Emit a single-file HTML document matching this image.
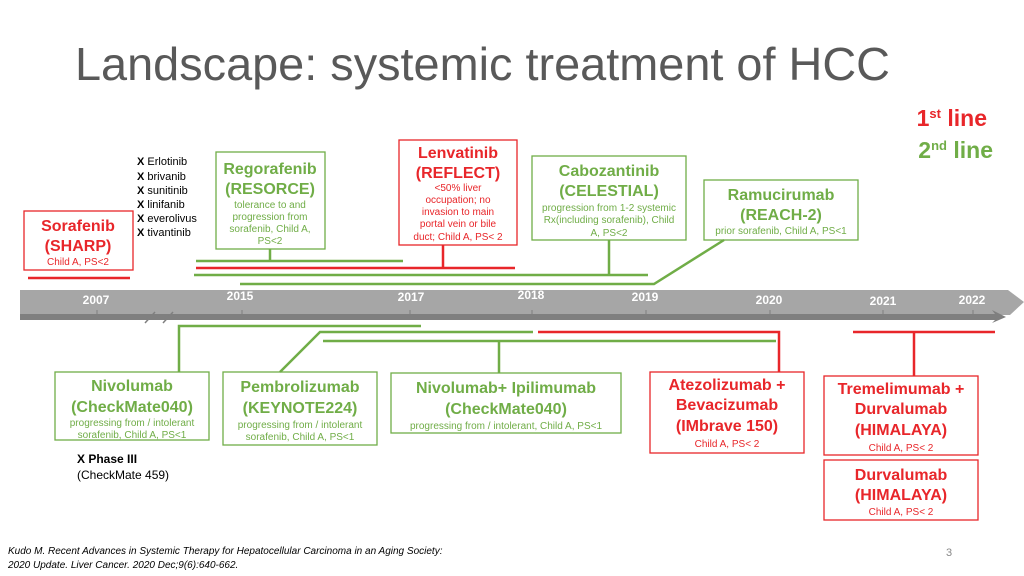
<!DOCTYPE html>
<html><head><meta charset="utf-8"><style>
html,body{margin:0;padding:0;background:#fff;}
svg{display:block;font-family:"Liberation Sans",Arial,sans-serif;}
.g{fill:#70ad47}.r{fill:#e8262a}
.bg{fill:none;stroke:#70ad47;stroke-width:1.3}
.br{fill:none;stroke:#e8262a;stroke-width:1.3}
.lg{stroke:#70ad47;stroke-width:2.5;fill:none}
.lr{stroke:#e8262a;stroke-width:2.5;fill:none}
.h{font-weight:bold;font-size:16px;text-anchor:middle}
.s{font-size:10px;text-anchor:middle}
.y{fill:#fff;font-weight:bold;font-size:12px;text-anchor:middle}
.x{font-size:11px;fill:#000}
</style></head><body>
<svg width="1024" height="576" viewBox="0 0 1024 576">
<text x="75" y="80" font-size="46" fill="#595959" textLength="815" lengthAdjust="spacingAndGlyphs">Landscape: systemic treatment of HCC</text>
<text x="987" y="126" font-size="23" font-weight="bold" class="r" text-anchor="end">1<tspan font-size="13" dy="-8">st</tspan><tspan dy="8"> line</tspan></text>
<text x="993" y="158" font-size="23" font-weight="bold" class="g" text-anchor="end">2<tspan font-size="13" dy="-8">nd</tspan><tspan dy="8"> line</tspan></text>

<polygon points="20,290 1008,290 1024,302 1010,315 20,315" fill="#a6a6a6"/>
<polygon points="20,314 995,314 992,310 1006,317 992,323 995,320 20,320" fill="#7f7f7f"/>
<g stroke="#7f7f7f" stroke-width="1">
<line x1="97" y1="310" x2="97" y2="316"/><line x1="242" y1="310" x2="242" y2="316"/><line x1="410" y1="310" x2="410" y2="316"/><line x1="532" y1="310" x2="532" y2="316"/><line x1="646" y1="310" x2="646" y2="316"/><line x1="770" y1="310" x2="770" y2="316"/><line x1="883" y1="310" x2="883" y2="316"/><line x1="973" y1="310" x2="973" y2="316"/>
</g>
<g stroke="#7f7f7f" stroke-width="1.5"><line x1="145" y1="323" x2="155" y2="312"/><line x1="163" y1="323" x2="173" y2="312"/></g>
<text class="y" x="96" y="304">2007</text><text class="y" x="240" y="300">2015</text><text class="y" x="411" y="301">2017</text><text class="y" x="531" y="299">2018</text><text class="y" x="645" y="301">2019</text><text class="y" x="769" y="304">2020</text><text class="y" x="883" y="305">2021</text><text class="y" x="972" y="304">2022</text>

<line class="lr" x1="28" y1="278" x2="130" y2="278"/>
<line class="lg" x1="196" y1="261" x2="403" y2="261"/><line class="lg" x1="270" y1="249" x2="270" y2="261"/>
<line class="lr" x1="196" y1="268" x2="515" y2="268"/><line class="lr" x1="443" y1="245" x2="443" y2="268"/>
<line class="lg" x1="194" y1="275" x2="648" y2="275"/><line class="lg" x1="609" y1="240" x2="609" y2="275"/>
<polyline class="lg" points="240,284 654,284 724,240"/>

<polyline class="lg" points="421,326 179,326 179,372"/>
<polyline class="lg" points="533,332 320,332 280,372"/>
<polyline class="lr" points="538,332 779,332 779,372"/>
<line class="lg" x1="323" y1="341" x2="776" y2="341"/><line class="lg" x1="499" y1="341" x2="499" y2="373"/>
<line class="lr" x1="853" y1="332" x2="995" y2="332"/><line class="lr" x1="914" y1="332" x2="914" y2="376"/>

<rect class="br" x="24" y="211" width="109" height="59"/>
<text class="h r" x="78" y="231">Sorafenib</text><text class="h r" x="78" y="251">(SHARP)</text><text class="s r" x="78" y="265">Child A, PS&lt;2</text>

<g class="x"><text x="137" y="165"><tspan font-weight="bold">X</tspan> Erlotinib</text><text x="137" y="180"><tspan font-weight="bold">X</tspan> brivanib</text><text x="137" y="194"><tspan font-weight="bold">X</tspan> sunitinib</text><text x="137" y="208"><tspan font-weight="bold">X</tspan> linifanib</text><text x="137" y="222"><tspan font-weight="bold">X</tspan> everolivus</text><text x="137" y="236"><tspan font-weight="bold">X</tspan> tivantinib</text></g>

<rect class="bg" x="216" y="152" width="109" height="97"/>
<text class="h g" x="270" y="174">Regorafenib</text><text class="h g" x="270" y="194">(RESORCE)</text>
<text class="s g" x="270" y="208">tolerance to and</text><text class="s g" x="270" y="220">progression from</text><text class="s g" x="270" y="232">sorafenib, Child A,</text><text class="s g" x="270" y="244">PS&lt;2</text>

<rect class="br" x="399" y="140" width="118" height="105"/>
<text class="h r" x="458" y="158">Lenvatinib</text><text class="h r" x="458" y="178">(REFLECT)</text>
<text class="s r" x="458" y="191">&lt;50% liver</text><text class="s r" x="458" y="203">occupation; no</text><text class="s r" x="458" y="215">invasion to main</text><text class="s r" x="458" y="227">portal vein or bile</text><text class="s r" x="458" y="240">duct; Child A, PS&lt; 2</text>

<rect class="bg" x="532" y="156" width="154" height="84"/>
<text class="h g" x="609" y="176">Cabozantinib</text><text class="h g" x="609" y="196">(CELESTIAL)</text>
<text class="s g" x="609" y="211">progression from 1-2 systemic</text><text class="s g" x="609" y="223">Rx(including sorafenib), Child</text><text class="s g" x="609" y="236">A, PS&lt;2</text>

<rect class="bg" x="704" y="180" width="154" height="60"/>
<text class="h g" x="781" y="200">Ramucirumab</text><text class="h g" x="781" y="220">(REACH-2)</text><text class="s g" x="781" y="234">prior sorafenib, Child A, PS&lt;1</text>

<rect class="bg" x="55" y="372" width="154" height="68"/>
<text class="h g" x="132" y="391">Nivolumab</text><text class="h g" x="132" y="412">(CheckMate040)</text>
<text class="s g" x="132" y="426">progressing from /  intolerant</text><text class="s g" x="132" y="438">sorafenib, Child A, PS&lt;1</text>

<rect class="bg" x="223" y="372" width="154" height="73"/>
<text class="h g" x="300" y="392">Pembrolizumab</text><text class="h g" x="300" y="413">(KEYNOTE224)</text>
<text class="s g" x="300" y="428">progressing from /  intolerant</text><text class="s g" x="300" y="440">sorafenib, Child A, PS&lt;1</text>

<rect class="bg" x="391" y="373" width="230" height="60"/>
<text class="h g" x="506" y="393">Nivolumab+ Ipilimumab</text><text class="h g" x="506" y="414">(CheckMate040)</text>
<text class="s g" x="506" y="429">progressing from /  intolerant, Child A, PS&lt;1</text>

<rect class="br" x="650" y="372" width="154" height="81"/>
<text class="h r" x="727" y="390">Atezolizumab +</text><text class="h r" x="727" y="410">Bevacizumab</text><text class="h r" x="727" y="431">(IMbrave 150)</text><text class="s r" x="727" y="447">Child A, PS&lt; 2</text>

<rect class="br" x="824" y="376" width="154" height="79"/>
<text class="h r" x="901" y="394">Tremelimumab +</text><text class="h r" x="901" y="414">Durvalumab</text><text class="h r" x="901" y="435">(HIMALAYA)</text><text class="s r" x="901" y="451">Child A, PS&lt; 2</text>

<rect class="br" x="824" y="460" width="154" height="60"/>
<text class="h r" x="901" y="480">Durvalumab</text><text class="h r" x="901" y="500">(HIMALAYA)</text><text class="s r" x="901" y="515">Child A, PS&lt; 2</text>

<text x="77" y="463" font-size="12" font-weight="bold">X Phase III</text>
<text x="77" y="479" font-size="12">(CheckMate 459)</text>

<text x="8" y="554" font-size="10" font-style="italic">Kudo M. Recent Advances in Systemic Therapy for Hepatocellular Carcinoma in an Aging Society:</text>
<text x="8" y="568" font-size="10" font-style="italic">2020 Update. Liver Cancer. 2020 Dec;9(6):640-662.</text>
<text x="946" y="556" font-size="11" fill="#888">3</text>
</svg>
</body></html>
